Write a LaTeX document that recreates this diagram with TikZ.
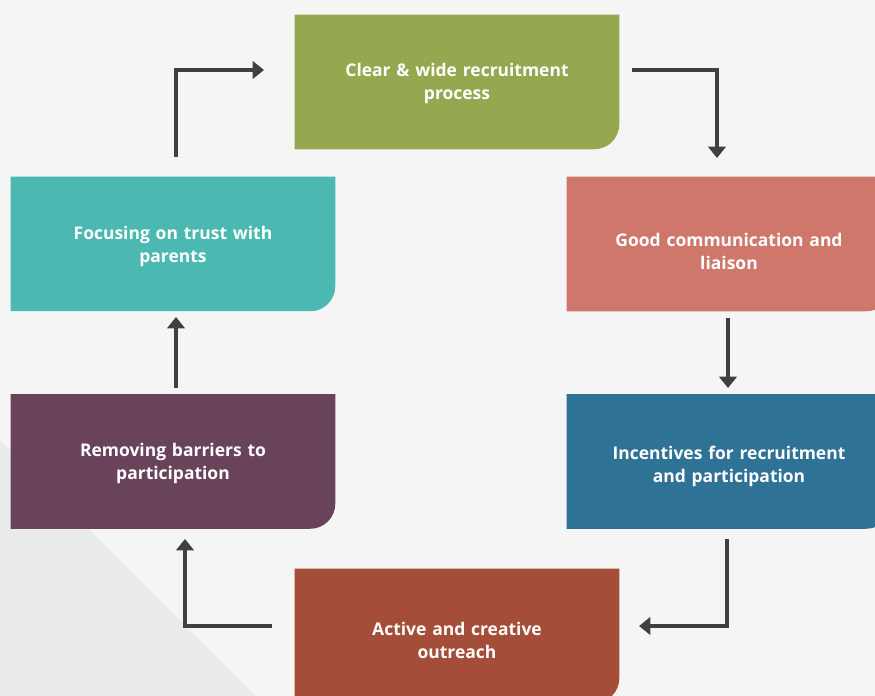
\documentclass[tikz,border=0pt]{standalone}
\usepackage{fontspec}
\setmainfont{Open Sans}
\usetikzlibrary{arrows.meta,backgrounds}
\definecolor{bgc}{HTML}{F5F5F5}
\definecolor{trc}{HTML}{EAECEB}
\definecolor{cgreen}{HTML}{95A850}
\definecolor{csalmon}{HTML}{CF776B}
\definecolor{cblue}{HTML}{2E7295}
\definecolor{cbrown}{HTML}{A44D38}
\definecolor{cplum}{HTML}{69435A}
\definecolor{cteal}{HTML}{4BB8B2}
\definecolor{carrow}{HTML}{404040}
\tikzset{
  box/.style={minimum width=243pt, minimum height=100.5pt, inner sep=0pt,
    text=white, font=\bfseries\fontsize{13.1pt}{17.2pt}\selectfont,
    align=center, text width=220pt},
  conn/.style={draw=carrow, line width=2.3pt, -{Triangle[length=8.5pt,width=13pt]}},
}
% #3: how far (pt) the box lies above the text centre
\newcommand{\boxbg}[3]{%
  \fill[#2] ([yshift=#3]#1.north west) -- ([yshift=#3]#1.north east)
    -- ([yshift=#3+18.75pt]#1.south east)
    arc[start angle=0, end angle=-90, radius=18.75pt] -- ([yshift=#3]#1.south west) -- cycle;}
\begin{document}
\begin{tikzpicture}[x=0.75pt,y=-0.75pt]
\useasboundingbox (0,0) rectangle (875,696);
\begin{scope}[on background layer]
\fill[bgc] (0,0) rectangle (875,696);
\fill[trc] (0,440) -- (256,696) -- (0,696) -- cycle;
\end{scope}

\node[box] (green) at (457,83) {Clear \& wide recruitment\\process};
\node[box] (salmon) at (729,251) {Good communication and\\liaison};
\node[box] (blue) at (729,466.5) {Incentives for recruitment\\and participation};
\node[box] (brown) at (457,640) {Active and creative\\outreach};
\node[box] (plum) at (173,463.5) {Removing barriers to\\participation};
\node[box] (teal) at (173,246.5) {Focusing on trust with\\parents};

\begin{scope}[on background layer]
\boxbg{green}{cgreen}{0.75pt}
\boxbg{salmon}{csalmon}{5.25pt}
\boxbg{blue}{cblue}{3.75pt}
\boxbg{brown}{cbrown}{3pt}
\boxbg{plum}{cplum}{1.5pt}
\boxbg{teal}{cteal}{1.9pt}
\end{scope}

% connector end points
\coordinate (a1) at (176,157);
\coordinate (a1e) at (264,70);
\coordinate (a2) at (632,70);
\coordinate (a2e) at (717,158);
\coordinate (a3) at (728,318);
\coordinate (a3e) at (728,388);
\coordinate (a4) at (727,539);
\coordinate (a4e) at (639,626);
\coordinate (a5) at (272,626);
\coordinate (a5e) at (185,539);
\coordinate (a6) at (176,388);
\coordinate (a6e) at (176,317);

\draw[conn] (a1) |- (a1e);
\draw[conn] (a2) -| (a2e);
\draw[conn] (a3) -- (a3e);
\draw[conn] (a4) |- (a4e);
\draw[conn] (a5) -| (a5e);
\draw[conn] (a6) -- (a6e);
\end{tikzpicture}
\end{document}
